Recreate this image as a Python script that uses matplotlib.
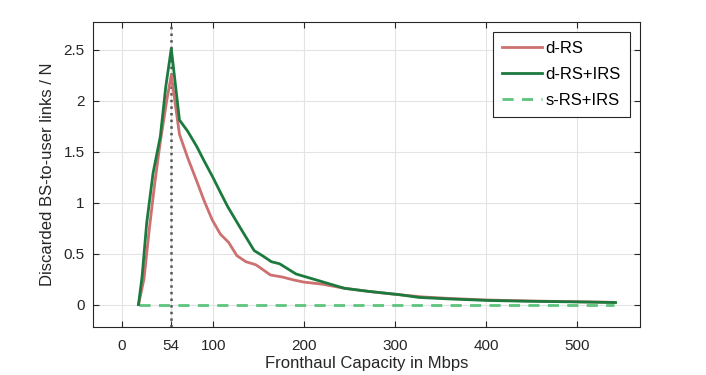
import numpy as np
import matplotlib
matplotlib.use('Agg')
from matplotlib import pyplot as plt

plt.rcParams['font.family'] = ['Liberation Sans', 'DejaVu Sans']

# fronthaul capacity (Mbps)
x_drs = [18, 24, 30, 36, 42, 49, 54, 63, 72, 82, 90, 99, 108, 117, 126, 136, 147,
         163, 176, 189, 200, 220, 244, 270, 300, 330, 360, 400, 450, 500, 540]
y_drs = [0, 0.25, 0.75, 1.2, 1.6, 2.0, 2.25, 1.67, 1.44, 1.21, 1.02, 0.83, 0.69, 0.61,
         0.48, 0.42, 0.39, 0.29, 0.27, 0.24, 0.22, 0.2, 0.16, 0.13, 0.1, 0.075, 0.06,
         0.045, 0.035, 0.028, 0.022]

x_irs = [18, 22, 27, 34, 42, 48, 54, 63, 72, 82, 90, 99, 108, 116, 130, 145, 154,
         164, 173, 191, 210, 244, 270, 304, 326, 360, 403, 450, 500, 542]
y_irs = [0, 0.28, 0.8, 1.29, 1.65, 2.14, 2.51, 1.81, 1.70, 1.55, 1.41, 1.26, 1.1,
         0.96, 0.75, 0.53, 0.48, 0.42, 0.4, 0.3, 0.25, 0.16, 0.13, 0.098, 0.07, 0.055,
         0.04, 0.032, 0.026, 0.02]

x_srs = [18, 540]
y_srs = [0, 0]

xticks = [0, 54, 100, 200, 300, 400, 500]
yticks = [0, 0.5, 1, 1.5, 2, 2.5]
x_mark = 54

fig = plt.figure(figsize=(7.06, 3.75), dpi=100)
ax = fig.add_axes([0.1317, 0.128, 0.775, 0.813])

ax.axvline(x_mark, color='#555555', ls=':', lw=1.8, zorder=1)
ax.plot(x_drs, y_drs, color='#cc7070', lw=2.0, label='d-RS', zorder=3)
ax.plot(x_irs, y_irs, color='#1d7a3e', lw=2.0, label='d-RS+IRS', zorder=4)
ax.plot(x_srs, y_srs, color='#5cc47c', lw=2.0, ls=(0, (4, 3)), label='s-RS+IRS', zorder=2)

ax.set_xlim(-32, 569)
ax.set_ylim(-0.22, 2.77)
ax.set_xticks(xticks)
ax.set_xticklabels([str(t) for t in xticks])
ax.set_yticks(yticks)
ax.set_yticklabels(['0', '0.5', '1', '1.5', '2', '2.5'])
ax.grid(True, color='#e3e3e3', lw=0.8)
ax.set_axisbelow(True)
ax.tick_params(direction='in', length=4, labelsize=11, colors='#262626',
               top=True, right=True)
ax.tick_params(axis='x', pad=9)
ax.tick_params(axis='y', pad=6)
for s in ax.spines.values():
    s.set_color('#262626')
    s.set_linewidth(0.8)

ax.set_xlabel('Fronthaul Capacity in Mbps', fontsize=12, color='#262626', labelpad=2)
ax.set_ylabel('Discarded BS-to-user links / N', fontsize=12, color='#262626', labelpad=6)

leg = ax.legend(loc='upper right', fontsize=12, fancybox=False, framealpha=1,
                edgecolor='#262626', handlelength=2.4, handletextpad=0.2,
                borderaxespad=0.6, labelspacing=0.65, borderpad=0.55)
leg.get_frame().set_linewidth(0.8)

fig.savefig('out.png', dpi=100)
